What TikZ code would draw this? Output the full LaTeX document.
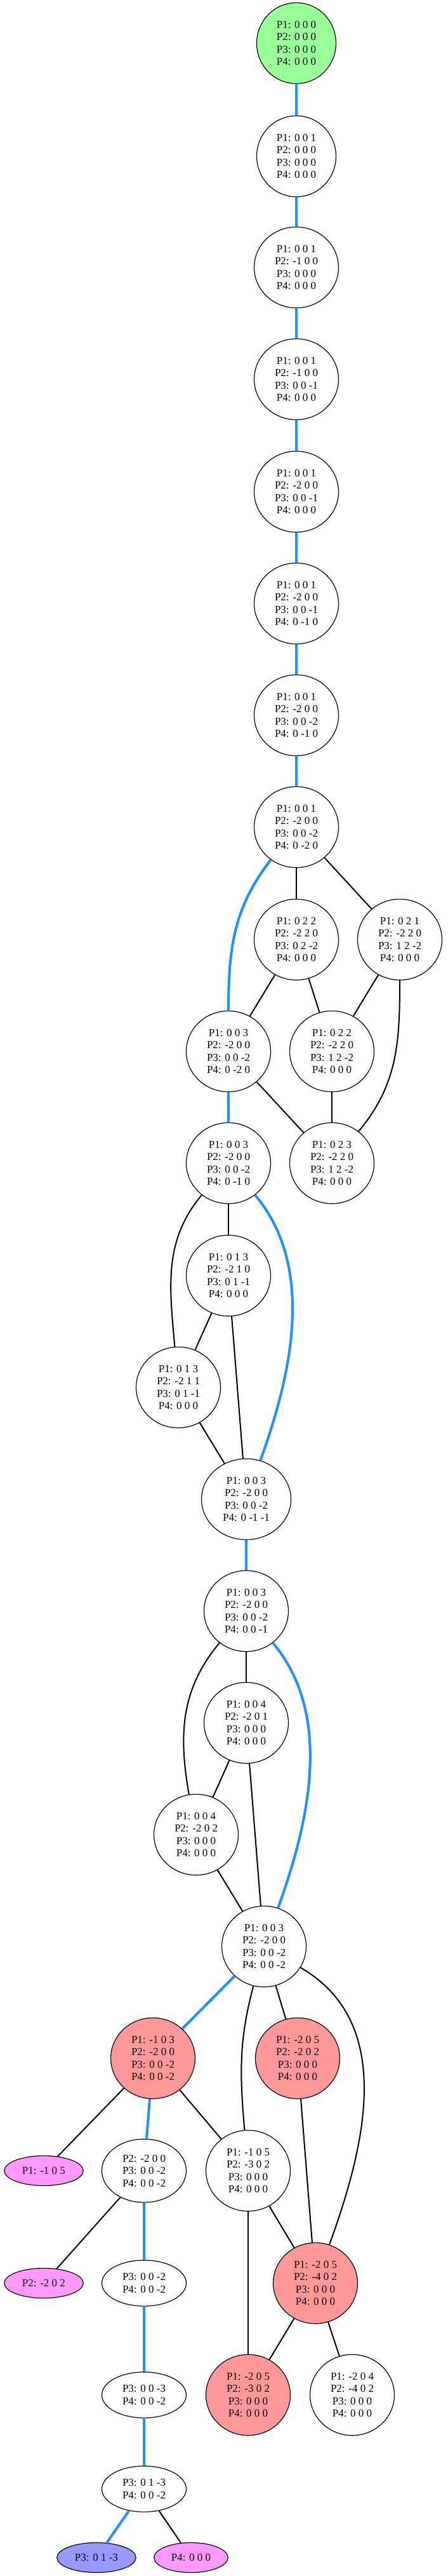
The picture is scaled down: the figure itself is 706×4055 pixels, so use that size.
\documentclass[tikz,border=0pt]{standalone}
\usepackage{fontspec}
\setmainfont{Liberation Serif}
\usetikzlibrary{shapes.geometric}

\definecolor{startgreen}{HTML}{99FF99}
\definecolor{deadred}{HTML}{FF9999}
\definecolor{leafpink}{HTML}{FF99FF}
\definecolor{goalblue}{HTML}{9999FF}
\definecolor{pathblue}{HTML}{1E90FF}

\begin{document}
\begin{tikzpicture}[x=1pt, y=-1pt,
        state/.style={draw, ellipse, line width=1.2pt, align=center, inner xsep=13pt, inner ysep=10pt, font=\fontsize{17}{19.5}\selectfont},
        leaf/.style={state, inner xsep=10pt, minimum height=47pt},
        link/.style={line width=2pt},
        trail/.style={line width=4pt, pathblue}
    ]
        \useasboundingbox (0,0) rectangle (706,4055);

        % States
        \node[state, fill=startgreen] (st0) at (467,68) {P1: 0 0 0\\P2: 0 0 0\\P3: 0 0 0\\P4: 0 0 0};
        \node[state] (st1) at (467,246) {P1: 0 0 1\\P2: 0 0 0\\P3: 0 0 0\\P4: 0 0 0};
        \node[state] (st2) at (467,421) {P1: 0 0 1\\P2: -1 0 0\\P3: 0 0 0\\P4: 0 0 0};
        \node[state] (st3) at (467,597) {P1: 0 0 1\\P2: -1 0 0\\P3: 0 0 -1\\P4: 0 0 0};
        \node[state] (st4) at (467,774) {P1: 0 0 1\\P2: -2 0 0\\P3: 0 0 -1\\P4: 0 0 0};
        \node[state] (st5) at (467,950) {P1: 0 0 1\\P2: -2 0 0\\P3: 0 0 -1\\P4: 0 -1 0};
        \node[state] (st6) at (467,1126) {P1: 0 0 1\\P2: -2 0 0\\P3: 0 0 -2\\P4: 0 -1 0};
        \node[state] (st7) at (467,1302) {P1: 0 0 1\\P2: -2 0 0\\P3: 0 0 -2\\P4: 0 -2 0};
        \node[state] (st8a) at (467,1479) {P1: 0 2 2\\P2: -2 2 0\\P3: 0 2 -2\\P4: 0 0 0};
        \node[state] (st8b) at (630,1479) {P1: 0 2 1\\P2: -2 2 0\\P3: 1 2 -2\\P4: 0 0 0};
        \node[state] (st9a) at (360,1655) {P1: 0 0 3\\P2: -2 0 0\\P3: 0 0 -2\\P4: 0 -2 0};
        \node[state] (st9b) at (523,1655) {P1: 0 2 2\\P2: -2 2 0\\P3: 1 2 -2\\P4: 0 0 0};
        \node[state] (st10a) at (360,1831) {P1: 0 0 3\\P2: -2 0 0\\P3: 0 0 -2\\P4: 0 -1 0};
        \node[state] (st10b) at (523,1831) {P1: 0 2 3\\P2: -2 2 0\\P3: 1 2 -2\\P4: 0 0 0};
        \node[state] (st11) at (360,2008) {P1: 0 1 3\\P2: -2 1 0\\P3: 0 1 -1\\P4: 0 0 0};
        \node[state] (st12) at (281,2184) {P1: 0 1 3\\P2: -2 1 1\\P3: 0 1 -1\\P4: 0 0 0};
        \node[state] (st13) at (388,2360) {P1: 0 0 3\\P2: -2 0 0\\P3: 0 0 -2\\P4: 0 -1 -1};
        \node[state] (st14) at (388,2536) {P1: 0 0 3\\P2: -2 0 0\\P3: 0 0 -2\\P4: 0 0 -1};
        \node[state] (st15) at (388,2712) {P1: 0 0 4\\P2: -2 0 1\\P3: 0 0 0\\P4: 0 0 0};
        \node[state] (st16) at (309,2888) {P1: 0 0 4\\P2: -2 0 2\\P3: 0 0 0\\P4: 0 0 0};
        \node[state] (st17) at (416,3064) {P1: 0 0 3\\P2: -2 0 0\\P3: 0 0 -2\\P4: 0 0 -2};
        \node[state, fill=deadred] (st18a) at (241,3240) {P1: -1 0 3\\P2: -2 0 0\\P3: 0 0 -2\\P4: 0 0 -2};
        \node[state, fill=deadred] (st18b) at (469,3240) {P1: -2 0 5\\P2: -2 0 2\\P3: 0 0 0\\P4: 0 0 0};
        \node[leaf, fill=leafpink] (lf1) at (69,3417) {P1: -1 0 5};
        \node[state] (st19a) at (227,3417) {P2: -2 0 0\\P3: 0 0 -2\\P4: 0 0 -2};
        \node[state] (st19b) at (391,3417) {P1: -1 0 5\\P2: -3 0 2\\P3: 0 0 0\\P4: 0 0 0};
        \node[leaf, fill=leafpink] (lf2) at (69,3594) {P2: -2 0 2};
        \node[state] (st20a) at (227,3594) {P3: 0 0 -2\\P4: 0 0 -2};
        \node[state, fill=deadred] (st20b) at (497,3594) {P1: -2 0 5\\P2: -4 0 2\\P3: 0 0 0\\P4: 0 0 0};
        \node[state] (st21a) at (227,3770) {P3: 0 0 -3\\P4: 0 0 -2};
        \node[state, fill=deadred] (st21b) at (391,3770) {P1: -2 0 5\\P2: -3 0 2\\P3: 0 0 0\\P4: 0 0 0};
        \node[state] (st21c) at (555,3770) {P1: -2 0 4\\P2: -4 0 2\\P3: 0 0 0\\P4: 0 0 0};
        \node[state] (st22) at (227,3918) {P3: 0 1 -3\\P4: 0 0 -2};
        \node[leaf, fill=goalblue] (lf3) at (152,4026) {P3: 0 1 -3};
        \node[leaf, fill=leafpink] (lf4) at (301,4026) {P4: 0 0 0};

        % Solution path
        \draw[trail] (st0) -- (st1);
        \draw[trail] (st1) -- (st2);
        \draw[trail] (st2) -- (st3);
        \draw[trail] (st3) -- (st4);
        \draw[trail] (st4) -- (st5);
        \draw[trail] (st5) -- (st6);
        \draw[trail] (st6) -- (st7);
        \draw[trail] (st7) to[out=-128, in=90] (st9a);
        \draw[trail] (st9a) -- (st10a);
        \draw[trail] (st10a) to[out=-50, in=70, looseness=0.9] (st13);
        \draw[trail] (st13) -- (st14);
        \draw[trail] (st14) to[out=-50, in=70, looseness=0.9] (st17);
        \draw[trail] (st17) -- (st18a);
        \draw[trail] (st18a) -- (st19a);
        \draw[trail] (st19a) -- (st20a);
        \draw[trail] (st20a) -- (st21a);
        \draw[trail] (st21a) -- (st22);
        \draw[trail] (st22) -- (lf3);

        % Other moves
        \draw[link] (st7) -- (st8a);
        \draw[link] (st7) -- (st8b);
        \draw[link] (st8a) -- (st9a);
        \draw[link] (st8a) -- (st9b);
        \draw[link] (st8b) -- (st9b);
        \draw[link] (st8b) to[out=-90, in=50] (st10b);
        \draw[link] (st9a) -- (st10b);
        \draw[link] (st9b) -- (st10b);
        \draw[link] (st10a) -- (st11);
        \draw[link] (st10a) to[out=-130, in=95] (st12);
        \draw[link] (st11) -- (st12);
        \draw[link] (st11) -- (st13);
        \draw[link] (st12) -- (st13);
        \draw[link] (st14) -- (st15);
        \draw[link] (st14) to[out=-130, in=100] (st16);
        \draw[link] (st15) -- (st16);
        \draw[link] (st15) -- (st17);
        \draw[link] (st16) -- (st17);
        \draw[link] (st17) to[out=-105, in=95] (st19b);
        \draw[link] (st17) -- (st18b);
        \draw[link] (st17) to[out=-30, in=70] (st20b);
        \draw[link] (st18a) -- (lf1);
        \draw[link] (st18a) -- (st19b);
        \draw[link] (st18b) -- (st20b);
        \draw[link] (st19a) -- (lf2);
        \draw[link] (st19b) -- (st20b);
        \draw[link] (st19b) -- (st21b);
        \draw[link] (st20b) -- (st21b);
        \draw[link] (st20b) -- (st21c);
        \draw[link] (st22) -- (lf4);

    \end{tikzpicture}
\end{document}
